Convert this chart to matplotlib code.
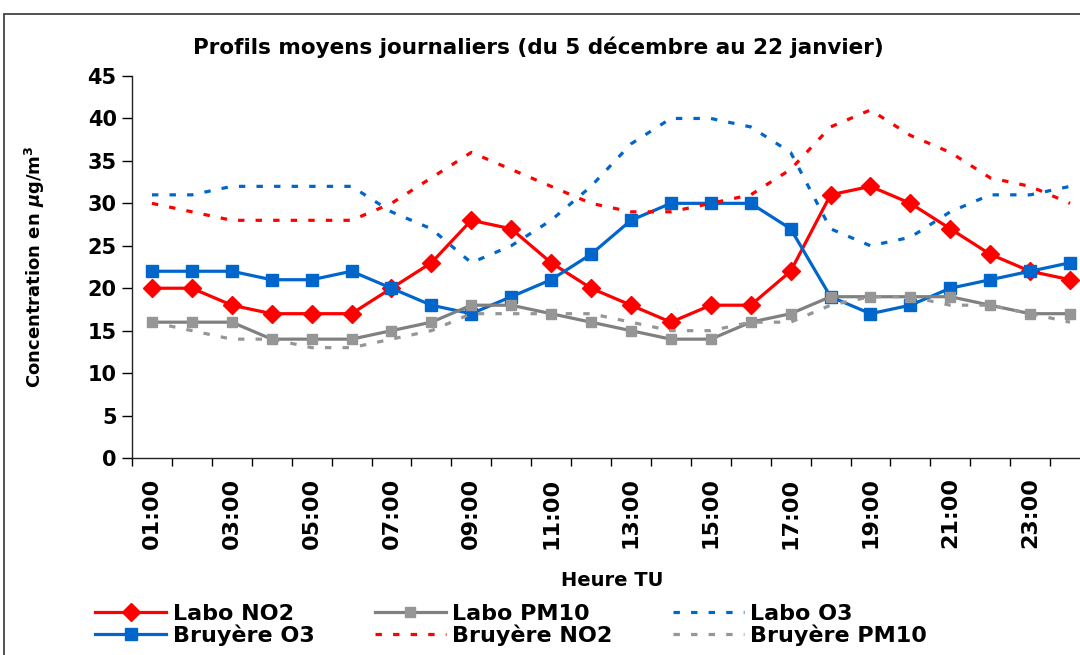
import matplotlib
matplotlib.use("Agg")
import matplotlib.pyplot as plt
from matplotlib.patches import Rectangle
import numpy as np

hours = [f"{h:02d}:00" for h in range(1, 25)]
labo_no2 = [20, 20, 18, 17, 17, 17, 20, 23, 28, 27, 23, 20, 18, 16, 18, 18, 22, 31, 32, 30, 27, 24, 22, 21]
bruyere_o3 = [22, 22, 22, 21, 21, 22, 20, 18, 17, 19, 21, 24, 28, 30, 30, 30, 27, 19, 17, 18, 20, 21, 22, 23]
labo_pm10 = [16, 16, 16, 14, 14, 14, 15, 16, 18, 18, 17, 16, 15, 14, 14, 16, 17, 19, 19, 19, 19, 18, 17, 17]
labo_o3 = [31, 31, 32, 32, 32, 32, 29, 27, 23, 25, 28, 32, 37, 40, 40, 39, 36, 27, 25, 26, 29, 31, 31, 32]
bruyere_no2 = [30, 29, 28, 28, 28, 28, 30, 33, 36, 34, 32, 30, 29, 29, 30, 31, 34, 39, 41, 38, 36, 33, 32, 30]
bruyere_pm10 = [16, 15, 14, 14, 13, 13, 14, 15, 17, 17, 17, 17, 16, 15, 15, 16, 16, 18, 19, 19, 18, 18, 17, 16]
yticks = list(range(0, 50, 5))

plt.rcParams['font.family'] = ['DejaVu Sans']
plt.rcParams['font.weight'] = 'bold'

W, H = 1080, 655
fig = plt.figure(figsize=(W / 100, H / 100), dpi=100)
fig.patches.append(Rectangle((4 / W, -0.1), 1.2, (H - 14) / H + 0.1, transform=fig.transFigure,
                             fill=False, edgecolor='#333333', linewidth=1.2))

ax = fig.add_axes([132 / W, (H - 458) / H, 958 / W, 382 / H])
x = np.arange(len(hours))

RED = '#FF0000'
BLUE = '#0066CC'
GRAY = '#808080'
LGRAY = '#969696'
lw = 2.3
dash = (2.0, 3.5)

l1, = ax.plot(x, labo_no2, color=RED, lw=lw, marker='D', markersize=9, label='Labo NO2')
l2, = ax.plot(x, bruyere_o3, color=BLUE, lw=lw, marker='s', markersize=8.5, label='Bruyère O3')
l3, = ax.plot(x, labo_pm10, color=GRAY, lw=lw, marker='s', markersize=7.5, markerfacecolor=LGRAY,
              markeredgecolor=LGRAY, label='Labo PM10')
l4, = ax.plot(x, bruyere_no2, color=RED, lw=lw, linestyle=(0, dash), label='Bruyère NO2')
l5, = ax.plot(x, labo_o3, color=BLUE, lw=lw, linestyle=(0, dash), label='Labo O3')
l6, = ax.plot(x, bruyere_pm10, color=LGRAY, lw=lw, linestyle=(0, dash), label='Bruyère PM10')

ax.set_xlim(-0.5, len(hours) - 0.5)
ax.set_ylim(0, 45)
ax.set_yticks(yticks)
ax.set_yticklabels([str(v) for v in yticks], fontsize=15, fontweight='bold')
ax.set_xticks(x[::2])
ax.set_xticklabels(hours[::2], rotation=90, fontsize=16, fontweight='bold')
ax.set_xticks(np.arange(-0.5, len(hours), 1), minor=True)
ax.tick_params(axis='x', which='major', length=0, pad=14)
ax.tick_params(axis='x', which='minor', length=6, width=1, direction='out')
ax.tick_params(axis='y', length=7, width=1, direction='out', pad=4)
for s in ['top', 'right']:
    ax.spines[s].set_visible(False)
for s in ['left', 'bottom']:
    ax.spines[s].set_linewidth(1)
    ax.spines[s].set_color('#222222')

ax.set_ylabel('Concentration en $\\mu$g/m$^3$', fontsize=13, fontweight='bold')
ax.yaxis.set_label_coords((47 - 132) / 958, 0.5)
fig.text(612 / W, 1 - 580 / H, 'Heure TU', ha='center', va='center', fontsize=14, fontweight='bold')
fig.text(538 / W, 1 - 47 / H, 'Profils moyens journaliers (du 5 décembre au 22 janvier)',
         ha='center', va='center', fontsize=15.5, fontweight='bold')

handles = [l1, l2, l3, l4, l5, l6]
leg = fig.legend(handles=handles, labels=[h.get_label() for h in handles], ncol=3,
                 loc='upper left', bbox_to_anchor=(95 / W, 1 - 604 / H), frameon=False,
                 fontsize=16, handlelength=3.2, columnspacing=2.7, labelspacing=0.0,
                 handletextpad=0.3, borderaxespad=0, borderpad=0)
for t in leg.get_texts():
    t.set_fontweight('bold')

fig.savefig('out.png', dpi=100)
